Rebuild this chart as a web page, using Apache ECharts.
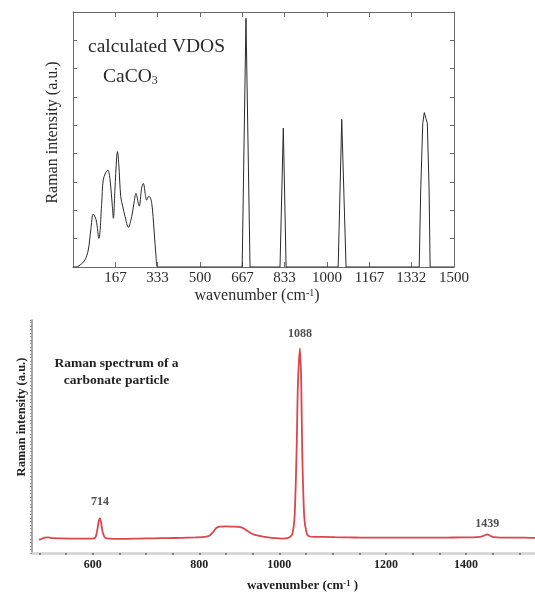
<!DOCTYPE html>
<html>
<head>
<meta charset="utf-8">
<script src="https://cdn.jsdelivr.net/npm/echarts@6/dist/echarts.min.js"></script>
<style>
html,body{margin:0;padding:0;background:#fff;}
#chart{width:535px;height:593px;}
</style>
</head>
<body>
<div id="chart"></div>
<script>
// ---------- Top panel: calculated VDOS of CaCO3 ----------
const vdosTickValues = [167, 333, 500, 667, 833, 1000, 1167, 1332, 1500];
// low-frequency band (cm-1, a.u.)
const bandX = [0, 8, 28, 47, 60, 70, 80, 91, 102, 113, 119, 129, 137, 146, 155, 159, 165, 172, 175, 180, 188, 196, 205, 218, 231, 240, 248, 257, 261, 270, 277, 284, 290, 297, 301, 310, 319, 327, 332, 340];
const bandY = [0, 0, 0.07, 0.25, 0.6, 1.31, 1.87, 1.66, 1.01, 2.25, 3.07, 3.33, 3.42, 3.07, 2.13, 1.72, 2.72, 3.89, 4.07, 3.66, 2.48, 2.13, 1.78, 1.40, 1.78, 2.25, 2.6, 2.25, 2.15, 2.78, 2.95, 2.6, 2.36, 2.48, 2.48, 2.25, 1.31, 0.36, 0, 0];
// sharp internal modes
const peakX = [340, 666, 681, 697, 815, 828, 839, 1044, 1058, 1075, 1363, 1369, 1377, 1383, 1386, 1389, 1395, 1402, 1406, 1500];
const peakY = [0, 0, 8.78, 0, 0, 4.9, 0, 0, 5.21, 0, 0, 2.72, 5.07, 5.45, 5.52, 5.45, 5.07, 2.72, 0, 0];

// ---------- Bottom panel: measured Raman spectrum ----------
const specTickValues = [485.7, 542.9, 600, 657.1, 714.3, 771.4, 828.6, 885.7, 942.9, 1000, 1057.1, 1114.3, 1171.4, 1228.6, 1285.7, 1342.9, 1400, 1457.1, 1514.3];
const specLabelValues = [600, 828.6, 1000, 1228.6, 1400];
const specLabelTexts = ['600', '800', '1000', '1200', '1400'];
const specX = [485, 490, 497, 505, 515, 530, 550, 570, 590, 603, 607, 610, 613, 615.6, 618, 621, 625, 630, 645, 670, 700, 730, 760, 790, 820, 840, 850, 858, 865, 872, 885, 900, 912, 920, 928, 936, 946, 958, 972, 990, 1005, 1018, 1025, 1028.6, 1032.8, 1037.1, 1040, 1044.3, 1047, 1049.1, 1053.4, 1058.6, 1064, 1075, 1095, 1120, 1150, 1180, 1210, 1240, 1270, 1300, 1330, 1360, 1390, 1415, 1430, 1438, 1445.6, 1452, 1460, 1475, 1500, 1525, 1548];
const specY = [5.6, 6.0, 6.6, 6.7, 6.4, 6.3, 6.2, 6.2, 6.2, 6.3, 7.2, 10.0, 13.6, 14.9, 13.2, 9.4, 7.0, 6.3, 6.1, 6.1, 6.2, 6.3, 6.4, 6.5, 6.7, 6.9, 7.4, 9.0, 10.7, 11.3, 11.4, 11.3, 11.2, 10.9, 10.0, 8.9, 7.9, 7.3, 6.8, 6.4, 6.2, 6.4, 7.2, 8.5, 15.6, 44, 72.8, 87.9, 72.8, 44, 15.6, 8.5, 7.2, 6.9, 6.9, 6.8, 6.7, 6.6, 6.6, 6.6, 6.6, 6.6, 6.6, 6.6, 6.7, 6.7, 6.9, 7.4, 8.0, 7.4, 6.8, 6.6, 6.6, 6.6, 6.5];
const peakLabelX = [615.6, 1044.3, 1445.6];
const peakLabelY = [14.9, 87.9, 8.0];
const peakLabelText = ['714', '1088', '1439'];

// ---------- styling ----------
const SERIF = '"Liberation Serif", "DejaVu Serif", serif';
const labelDistances = [10, 8, 4];
const zip = (xs, ys) => xs.map((x, i) => [x, ys[i]]);

const chart = echarts.init(document.getElementById('chart'), null, {renderer: 'canvas'});

const frameLine = {show: true, onZero: false, lineStyle: {color: '#6a6a6a', width: 1}};
const topName = {
  a: {fontFamily: SERIF, fontSize: 16, color: '#2a2a2a'},
  s: {fontFamily: SERIF, fontSize: 10, color: '#2a2a2a', verticalAlign: 'top'}
};
const botName = {
  a: {fontFamily: SERIF, fontSize: 13, fontWeight: 'bold', color: '#222'},
  s: {fontFamily: SERIF, fontSize: 8.5, fontWeight: 'bold', color: '#222', verticalAlign: 'top'}
};

const option = {
  backgroundColor: '#fff',
  animation: false,
  grid: [
    {left: 73, top: 12, width: 381, height: 255},
    {left: 32, top: 320, right: 0, height: 233}
  ],
  xAxis: [
    {
      gridIndex: 0, type: 'value', min: 0, max: 1500, position: 'bottom',
      axisLine: frameLine,
      axisTick: {show: true, inside: true, length: 5, customValues: vdosTickValues, lineStyle: {color: '#6a6a6a'}},
      axisLabel: {show: true, customValues: vdosTickValues, margin: 4, fontFamily: SERIF, fontSize: 15, color: '#2a2a2a',
        formatter: v => String(v)},
      splitLine: {show: false},
      name: '{a|wavenumber (cm}{s|-1}{a|)}', nameLocation: 'middle', nameGap: 21,
      nameTextStyle: {rich: topName, padding: [0, 13, 0, 0]}
    },
    {
      gridIndex: 0, type: 'value', min: 0, max: 1500, position: 'top',
      axisLine: frameLine,
      axisTick: {show: true, inside: true, length: 5, customValues: vdosTickValues, lineStyle: {color: '#6a6a6a'}},
      axisLabel: {show: false}, splitLine: {show: false}
    },
    {
      gridIndex: 1, type: 'value', min: 470, max: 1548,
      axisLine: {show: true, onZero: false, lineStyle: {color: '#d2d2d2', width: 2.5}},
      axisTick: {show: true, length: 2, customValues: specTickValues, lineStyle: {color: '#666', width: 1.5}},
      axisLabel: {
        show: true, customValues: specLabelValues, margin: 6,
        fontFamily: SERIF, fontSize: 12, fontWeight: 'bold', color: '#222',
        formatter: v => {
          let best = 0;
          specLabelValues.forEach((lv, i) => { if (Math.abs(lv - v) < Math.abs(specLabelValues[best] - v)) best = i; });
          return specLabelTexts[best];
        }
      },
      splitLine: {show: false},
      name: '{a|wavenumber (cm}{s|-1}{a| )}', nameLocation: 'middle', nameGap: 26,
      nameTextStyle: {rich: botName, padding: [0, 0, 0, 38]}
    }
  ],
  yAxis: [
    {
      gridIndex: 0, type: 'value', min: 0, max: 9, interval: 1, position: 'left',
      axisLine: frameLine,
      axisTick: {show: true, inside: true, length: 4, lineStyle: {color: '#6a6a6a'}},
      axisLabel: {show: false}, splitLine: {show: false},
      name: 'Raman intensity (a.u.)', nameLocation: 'middle', nameGap: 12,
      nameTextStyle: {fontFamily: SERIF, fontSize: 16, color: '#2a2a2a', padding: [0, 0, 0, 14]}
    },
    {
      gridIndex: 0, type: 'value', min: 0, max: 9, interval: 1, position: 'right',
      axisLine: frameLine,
      axisTick: {show: true, inside: true, length: 4, lineStyle: {color: '#6a6a6a'}},
      axisLabel: {show: false}, splitLine: {show: false}
    },
    {
      gridIndex: 1, type: 'value', min: 0, max: 100, interval: 1.5,
      axisLine: {show: true, onZero: false, lineStyle: {color: '#8a8a8a', width: 1.5}},
      axisTick: {show: true, length: 2, lineStyle: {color: '#9a9a9a', width: 1}},
      axisLabel: {show: false}, splitLine: {show: false},
      name: 'Raman intensity (a.u.)', nameLocation: 'middle', nameGap: 4,
      nameTextStyle: {fontFamily: SERIF, fontSize: 12.5, fontWeight: 'bold', color: '#222', padding: [0, 0, 0, 39]}
    }
  ],
  series: [
    {
      type: 'line', xAxisIndex: 0, yAxisIndex: 0, data: zip(bandX, bandY),
      smooth: 0.35, showSymbol: false, lineStyle: {color: '#2a2a2a', width: 1}
    },
    {
      type: 'line', xAxisIndex: 0, yAxisIndex: 0, data: zip(peakX, peakY),
      smooth: false, showSymbol: false, lineStyle: {color: '#2a2a2a', width: 1}
    },
    {
      type: 'line', xAxisIndex: 2, yAxisIndex: 2, data: zip(specX, specY),
      smooth: 0.3, showSymbol: false, lineStyle: {color: '#d9474e', width: 1.8}
    },
    {
      type: 'scatter', xAxisIndex: 2, yAxisIndex: 2, symbolSize: 1,
      itemStyle: {color: 'rgba(0,0,0,0)'},
      data: peakLabelX.map((x, i) => ({
        value: [x, peakLabelY[i]], name: peakLabelText[i],
        label: {show: true, position: 'top', distance: labelDistances[i], formatter: peakLabelText[i],
          fontFamily: SERIF, fontSize: 12, fontWeight: 'bold', color: '#222'}
      })),
      silent: true
    }
  ],
  graphic: [
    {
      type: 'text', x: 88, y: 47,
      style: {text: 'calculated VDOS', font: '19.5px ' + SERIF, fill: '#2a2a2a', verticalAlign: 'middle', align: 'left'}
    },
    {
      type: 'text', x: 103, y: 77,
      style: {
        text: '{n|CaCO}{s|3}', verticalAlign: 'middle', align: 'left',
        rich: {
          n: {fontFamily: SERIF, fontSize: 19.5, fill: '#2a2a2a'},
          s: {fontFamily: SERIF, fontSize: 12, fill: '#2a2a2a', verticalAlign: 'bottom'}
        }
      }
    },
    {
      type: 'text', x: 116.5, y: 372,
      style: {
        text: 'Raman spectrum of a\ncarbonate particle',
        font: 'bold 13.5px ' + SERIF, fill: '#222', align: 'center', verticalAlign: 'middle', lineHeight: 17.7
      }
    }
  ]
};
chart.setOption(option);
</script>
</body>
</html>
